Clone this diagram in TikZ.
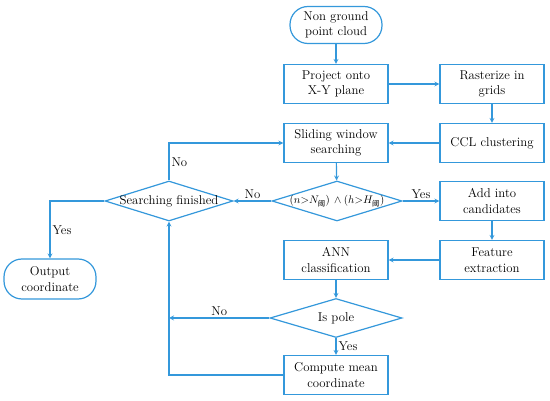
\documentclass[tikz,border=0pt]{standalone}
\usepackage{amsmath, amssymb}
\usepackage{fontspec}
\newfontfamily\cjk{Noto Sans CJK SC}
\usepackage{tikz}
\usetikzlibrary{shapes.geometric, arrows.meta, positioning}
\definecolor{azulflujo}{RGB}{52,152,219}
\newcommand{\sinancho}[1]{\makebox[0pt]{#1}}

\begin{document}
\begin{tikzpicture}[x=1pt, y=-1pt,
        caja/.style={rectangle, draw=azulflujo, line width=1.2pt, fill=white, align=center, font=\fontsize{12.8}{15.5}\selectfont, minimum width=104pt, minimum height=39pt, inner sep=1pt},
        terminal/.style={caja, rounded corners=18pt, minimum width=92pt, minimum height=37pt},
        rombo/.style={diamond, draw=azulflujo, line width=1.2pt, fill=white, inner sep=0pt, font=\fontsize{12.8}{15.5}\selectfont, minimum width=130pt, minimum height=40pt},
        flecha/.style={->, draw=azulflujo, line width=1.2pt, >=stealth},
        etiqueta/.style={font=\fontsize{12.8}{15.5}\selectfont, inner sep=2pt}]
        \useasboundingbox (0,0) rectangle (550,401);
        \node[terminal] (inicio) at (336, 25) {Non ground\\point cloud};
        \node[caja] (proyectar) at (336, 84) {Project onto\\X-Y plane};
        \node[caja] (raster) at (492, 84) {Rasterize in\\grids};
        \node[caja] (ventana) at (336, 143) {Sliding window\\searching};
        \node[caja] (ccl) at (492, 143) {CCL clustering};
        \node[rombo] (umbral) at (337, 201) {\sinancho{\fontsize{10.5}{13}\selectfont$(n{>}N_{\text{\cjk 阈}})\,\wedge(h{>}H_{\text{\cjk 阈}})$}};
        \node[rombo, minimum width=128pt] (fin) at (169, 201) {\sinancho{Searching finished}};
        \node[caja] (candidatos) at (492, 201) {Add into\\candidates};
        \node[caja] (rasgos) at (492, 260) {Feature\\extraction};
        \node[caja] (ann) at (336, 260) {ANN\\classification};
        \node[rombo, minimum width=132pt, minimum height=39pt] (poste) at (336, 318) {\sinancho{Is pole}};
        \node[caja] (media) at (336, 375) {Compute mean\\coordinate};
        \node[terminal, minimum height=40pt] (salida) at (50, 279) {Output\\coordinate};
        \draw[flecha] (inicio) -- (proyectar);
        \draw[flecha] (proyectar) -- (raster);
        \draw[flecha] (raster) -- (ccl);
        \draw[flecha] (ccl) -- (ventana);
        \draw[flecha] (ventana) -- (umbral);
        \draw[flecha] (umbral) -- node[etiqueta, above] {No} (fin);
        \draw[flecha] (umbral) -- node[etiqueta, above] {Yes} (candidatos);
        \draw[flecha] (candidatos) -- (rasgos);
        \draw[flecha] (rasgos) -- (ann);
        \draw[flecha] (ann) -- (poste);
        \draw[flecha] (poste) -- node[etiqueta, right] {Yes} (media);
        \draw[flecha] (fin.north) |- node[etiqueta, pos=0.25, right] {No} (ventana.west);
        \draw[flecha] (fin.west) -| node[etiqueta, pos=0.75, right] {Yes} (salida.north);
        \draw[flecha] (poste.west) -- node[etiqueta, above] {No} (poste.west -| fin.south);
        \draw[flecha] (media.west) -| (fin.south);
    \end{tikzpicture}
\end{document}
